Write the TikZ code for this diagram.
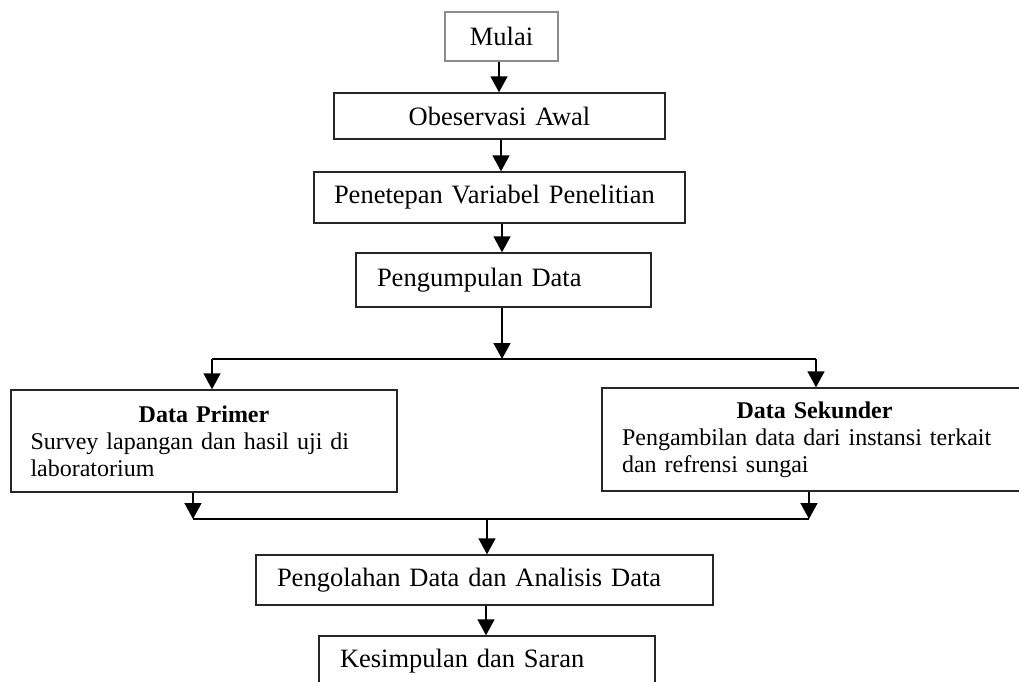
\documentclass[tikz,border=0pt]{standalone}
\usepackage{fontspec}
\setmainfont{Liberation Serif}
\usetikzlibrary{arrows.meta,calc}
\begin{document}
\begin{tikzpicture}[x=1pt,y=-1pt,
  box/.style={draw=black!85, line width=1.4pt, rectangle, inner sep=0pt,
    font=\fontsize{26.5}{30}\selectfont},
  databox/.style={draw=black!85, line width=1.4pt, rectangle, inner sep=0pt,
    font=\fontsize{24}{27}\selectfont, align=left},
  arr/.style={line width=1.5pt, -{Triangle[width=17pt,length=16pt]}},
  ln/.style={line width=1.5pt}]
\useasboundingbox (0,0) rectangle (1019,681);
\clip (0,0) rectangle (1019,681);

\node[box, draw=gray!90, line width=2.5pt, minimum width=113pt, minimum height=49pt,
  align=center] (mulai) at (501.5,36.5) {Mulai};
\node[box, minimum width=331pt, minimum height=46pt, text width=291pt,
  align=center] (obs) at (499.5,116) {Obeservasi Awal};
\node[box, minimum width=371pt, minimum height=51pt, text width=331pt,
  align=left] (pen) at (499.5,197.5) {Penetepan Variabel Penelitian};
\node[box, minimum width=295pt, minimum height=54pt, text width=253pt,
  align=left] (peng) at (503.5,280) {Pengumpulan Data};

\node[databox, minimum width=386pt, minimum height=102pt, text width=347pt]
  (prim) at (204,441)
  {\makebox[\linewidth]{\bfseries Data Primer}\\
   \makebox[\linewidth][s]{Survey lapangan dan hasil uji di}\\
   laboratorium};
\node[databox, minimum width=425pt, minimum height=103pt, text width=385pt]
  (sek) at (814.5,439.5)
  {\makebox[\linewidth]{\bfseries Data Sekunder}\\
   \makebox[\linewidth][s]{Pengambilan data dari instansi terkait}\\
   dan refrensi sungai};

\node[box, minimum width=457pt, minimum height=50pt, text width=415pt,
  align=left] (olah) at (484.5,580) {Pengolahan Data dan Analisis Data};
\node[box, minimum width=336pt, minimum height=50pt, text width=294pt,
  align=left] (kes) at (487,661) {Kesimpulan dan Saran};

% connectors
\draw[arr] ([xshift=-2.5pt]mulai.south) -- ([xshift=-2.5pt]mulai.south |- obs.north);
\draw[arr] ([xshift=1.5pt]obs.south) -- ([xshift=1.5pt]obs.south |- pen.north);
\draw[arr] ([xshift=2.5pt]pen.south) -- ([xshift=2.5pt]pen.south |- peng.north);

\coordinate (split) at (502,359);
\coordinate (spL) at (212,359);
\coordinate (spR) at (816,359);
\draw[arr] (peng.south -| split) -- (split);
\draw[ln] (spL) -- (spR);
\draw[arr] (spL) -- (spL |- prim.north);
\draw[arr] (spR) -- (spR |- sek.north);

\coordinate (jL) at (193,519);
\coordinate (jR) at (809,519);
\coordinate (jM) at (487,519);
\draw[arr] (prim.south -| jL) -- (jL);
\draw[arr] (sek.south -| jR) -- (jR);
\draw[line width=2.2pt] (jL) -- (jR);
\draw[arr] (jM) -- (jM |- olah.north);
\draw[arr] ([xshift=1.5pt]olah.south) -- ([xshift=1.5pt]olah.south |- kes.north);
\end{tikzpicture}
\end{document}
